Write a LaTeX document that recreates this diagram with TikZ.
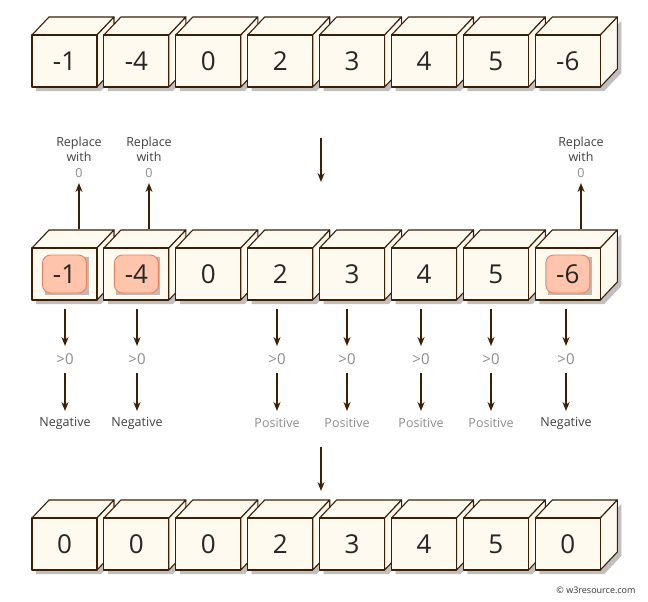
\documentclass[tikz,border=0pt]{standalone}
\usepackage{fontspec}
\setmainfont{Open Sans}
\usetikzlibrary{arrows.meta}
\definecolor{edge}{HTML}{3D1F05}
\definecolor{face}{HTML}{FFFAF0}
\definecolor{badge}{HTML}{FFC4AC}
\definecolor{badgeedge}{HTML}{EE7F5A}
\tikzset{
  cubeline/.style={draw=edge,line width=1.1pt,fill=face,line join=round},
  num/.style={font=\fontsize{26}{28}\selectfont,text=black!85},
  arr/.style={draw=edge,line width=1.5pt,-{Stealth[length=9pt,width=7pt]}},
  lbl/.style={font=\fontsize{12.5}{15}\selectfont,text=black!75,align=center},
  glbl/.style={font=\fontsize{12.5}{15}\selectfont,text=black!45},
  gt/.style={font=\fontsize{15}{17}\selectfont,text=black!45},
  hl/.style={draw=badgeedge,fill=badge,rounded corners=8pt,line width=0.9pt,minimum width=44pt,minimum height=38pt,inner sep=0pt}
}
\newcommand{\mycube}[4]{% x, ytop, label, name
  \fill[black,opacity=0.25] (#1+4,#2+4) -- (#1+69,#2+4) -- (#1+86,#2-14) -- (#1+86,#2+38) -- (#1+69,#2+56) -- (#1+4,#2+56) -- cycle;
  \path[cubeline] (#1,#2) -- (#1+17,#2-18) -- (#1+82,#2-18) -- (#1+65,#2) -- cycle;
  \path[cubeline] (#1+65,#2) -- (#1+82,#2-18) -- (#1+82,#2+34) -- (#1+65,#2+52) -- cycle;
  \path[cubeline] (#1,#2) rectangle (#1+65,#2+52);
  \node[num] (#4) at (#1+32.5,#2+26) {#3};
}
\begin{document}
\begin{tikzpicture}[x=1pt,y=-1pt]
\useasboundingbox[fill=white] (0,0) rectangle (648,602);
\foreach \v [count=\i from 0] in {-1,-4,0,2,3,4,5,-6}{
  \mycube{32+71.9*\i}{35}{\v}{t\i}
}
\foreach \v [count=\i from 0] in {-1,-4,0,2,3,4,5,-6}{
  \mycube{32+71.9*\i}{248}{}{m\i}
}
\foreach \i in {0,1,7}{
  \fill[black,opacity=0.25] (32+71.9*\i+32.5-20,248+26-17) rectangle ++(44,38);
  \node[hl] at (32+71.9*\i+32.5,248+26) {};
}
\foreach \v [count=\i from 0] in {-1,-4,0,2,3,4,5,-6}{
  \node[num] at (32+71.9*\i+32.5,248+26) {\v};
}
\foreach \v [count=\i from 0] in {0,0,0,2,3,4,5,0}{
  \mycube{32+71.9*\i}{518}{\v}{b\i}
}
\coordinate (c1) at (321,138); \coordinate (c2) at (321,182);
\draw[arr] (c1) -- (c2);
\coordinate (c3) at (321,447); \coordinate (c4) at (321,491);
\draw[arr] (c3) -- (c4);
\foreach \x/\n in {79/r0,149/r1,581/r7}{
  \coordinate (\n a) at (\x,229); \coordinate (\n b) at (\x,183);
  \draw[arr] (\n a) -- (\n b);
  \node[lbl] at (\x,149) {Replace\\with};
  \node[glbl] at (\x,173) {0};
}
\foreach \x/\t/\s in {65/Negative/lbl,137/Negative/lbl,277/Positive/glbl,347/Positive/glbl,421/Positive/glbl,491/Positive/glbl,566/Negative/lbl}{
  \draw[arr] (\x,309) -- (\x,346);
  \node[gt] at (\x,359) {>0};
  \draw[arr] (\x,373) -- (\x,411);
  \node[\s] at (\x,423) {\t};
}
\node[font=\fontsize{9}{10}\selectfont,text=black!80] at (596,590) {© w3resource.com};
\end{tikzpicture}
\end{document}
